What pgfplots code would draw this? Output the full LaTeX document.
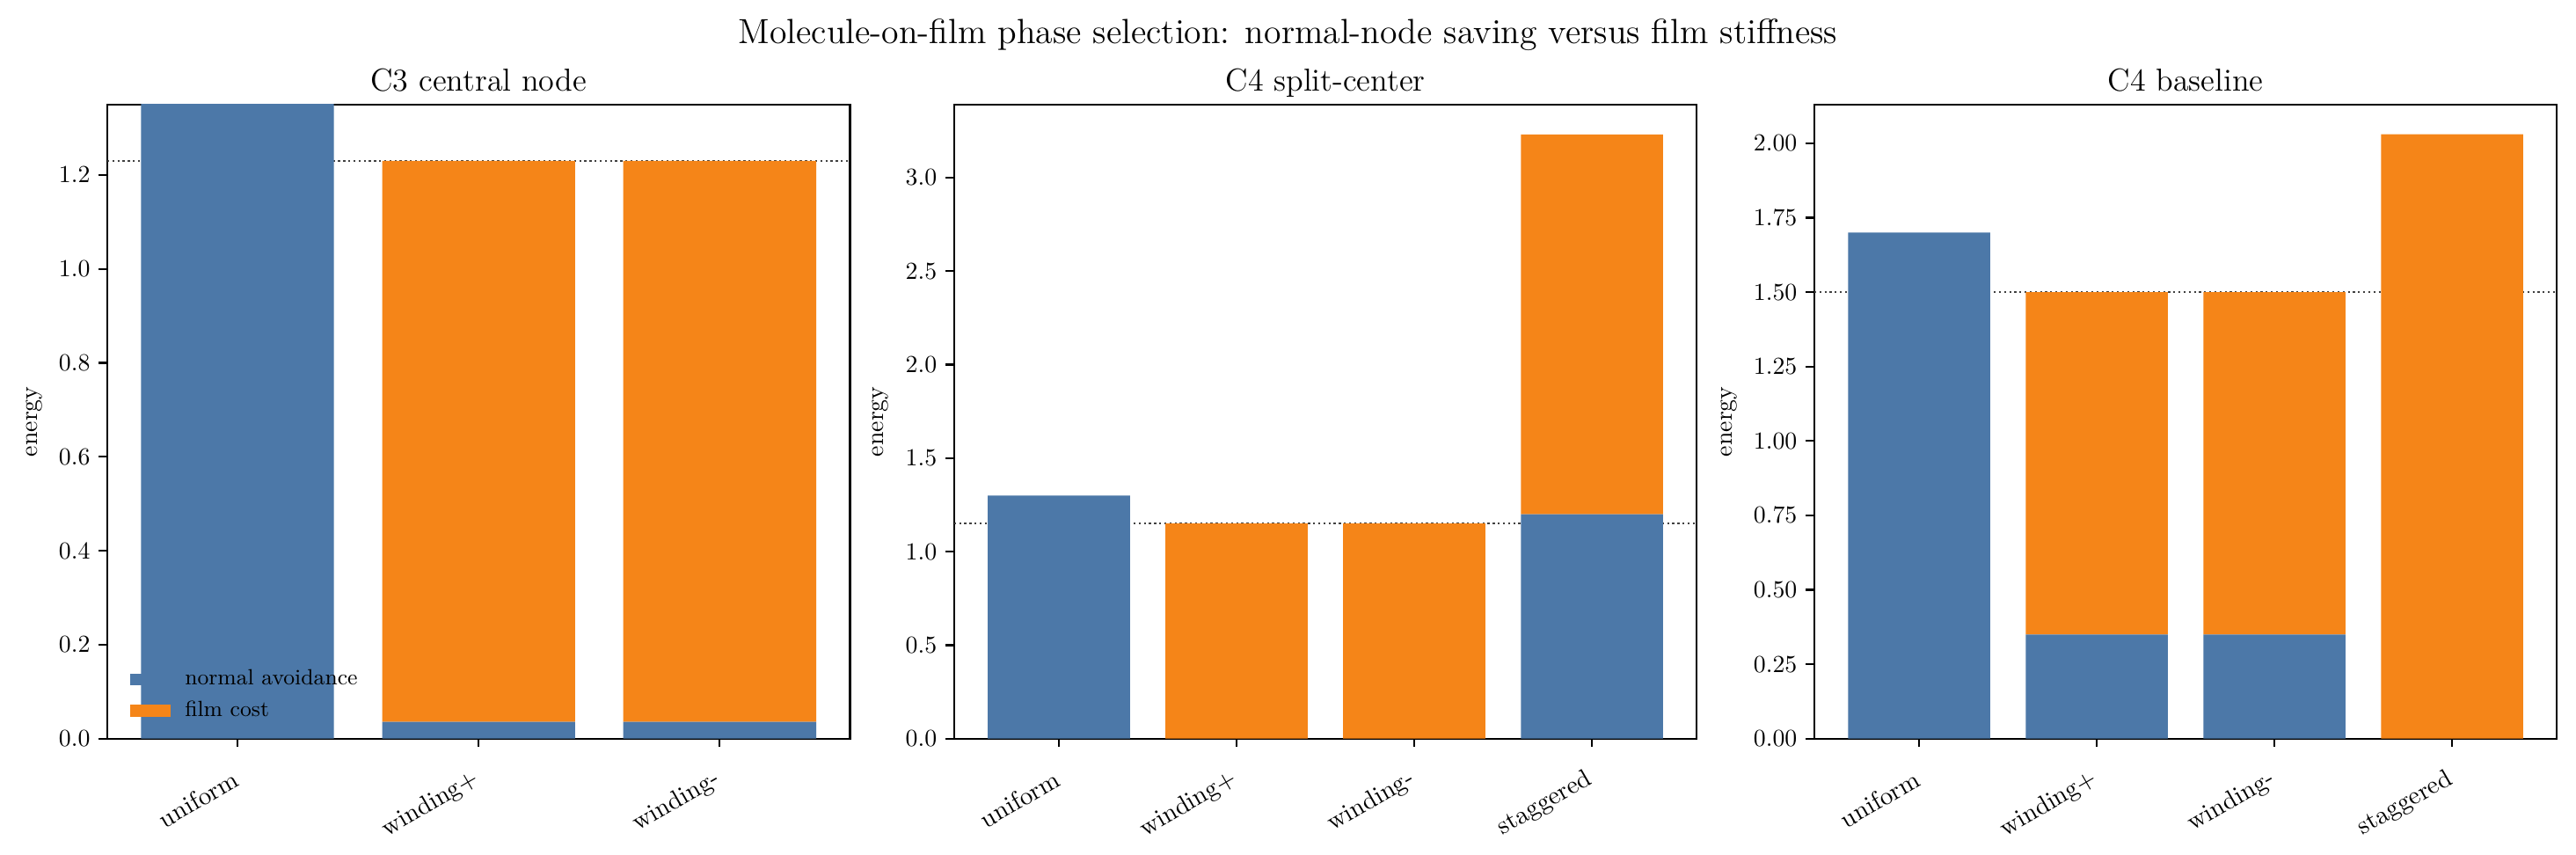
\documentclass[border=0pt]{standalone}
\usepackage{pgfplots}
\pgfplotsset{compat=1.18}

\definecolor{avoid}{HTML}{4C78A8}
\definecolor{film}{HTML}{F58518}

\pgfplotsset{
  panel/.style={
    scale only axis, width=304pt, height=259.5pt, anchor=south west,
    ybar stacked, bar width=0.8, enlargelimits=false, ymin=0,
    tick align=outside, xtick pos=bottom, ytick pos=left,
    major tick length=3.5pt,
    every tick/.style={black, line width=0.8pt},
    axis line style={line width=0.8pt},
    xticklabel style={xshift=0.4pt, yshift=-11.8pt, rotate=30, anchor=east,
      inner sep=1pt, font=\fontsize{10.4}{12}\selectfont},
    yticklabel style={/pgf/number format/fixed, /pgf/number format/fixed zerofill},
    ylabel={energy},
    every axis title/.style={at={(0.5,1)}, anchor=base, yshift=5.6pt,
      font=\fontsize{13}{15}\selectfont},
  },
  avoidbar/.style={fill=avoid, draw=none,
    legend image code/.code={\fill[avoid] (0pt,-2.4pt) rectangle (16.6pt,2.4pt);}},
  filmbar/.style={fill=film, draw=none,
    legend image code/.code={\fill[film] (0pt,-2.4pt) rectangle (16.6pt,2.4pt);}},
}
\tikzset{refline/.style={black!75, line width=0.8pt, dash pattern=on 0.8pt off 1.3pt}}

\begin{document}
\begin{tikzpicture}
\useasboundingbox (0,0) rectangle (1054.4pt,349.6pt);

% C3 central node
\begin{axis}[panel, at={(43.9pt,47.3pt)},
  title={C3 central node},
  xmin=-0.54, xmax=2.54, ymax=1.35,
  xtick={0,1,2}, xticklabels={uniform,winding+,winding-},
  ytick={0,0.2,0.4,0.6,0.8,1.0,1.2},
  yticklabel style={/pgf/number format/precision=1},
  legend style={at={(rel axis cs:0,0)}, anchor=south west, xshift=6pt, yshift=3pt,
    draw=none, fill=none, font=\fontsize{9}{11}\selectfont, cells={anchor=west},
    row sep=0.3pt, legend cell align=left,
    nodes={inner xsep=6pt, inner ysep=2pt, text height=6.5pt, text depth=2pt}},
]
\addplot[avoidbar] coordinates {(0,1.50) (1,0.036) (2,0.036)};
\addplot[filmbar]  coordinates {(0,0) (1,1.194) (2,1.194)};
\legend{normal avoidance, film cost}
\draw[refline] (axis cs:-0.54,1.23) -- (axis cs:2.54,1.23);
\end{axis}

% C4 split-center
\begin{axis}[panel, at={(390.5pt,47.3pt)},
  title={C4 split-center},
  xmin=-0.59, xmax=3.59, ymax=3.39,
  xtick={0,1,2,3}, xticklabels={uniform,winding+,winding-,staggered},
  ytick={0,0.5,1.0,1.5,2.0,2.5,3.0},
  yticklabel style={/pgf/number format/precision=1},
]
\addplot[avoidbar] coordinates {(0,1.30) (1,0) (2,0) (3,1.20)};
\addplot[filmbar]  coordinates {(0,0) (1,1.15) (2,1.15) (3,2.03)};
\draw[refline] (axis cs:-0.59,1.15) -- (axis cs:3.59,1.15);
\end{axis}

% C4 baseline
\begin{axis}[panel, at={(742.6pt,47.3pt)},
  title={C4 baseline},
  xmin=-0.59, xmax=3.59, ymax=2.13,
  xtick={0,1,2,3}, xticklabels={uniform,winding+,winding-,staggered},
  ytick={0,0.25,0.5,0.75,1.0,1.25,1.5,1.75,2.0},
  yticklabel style={/pgf/number format/precision=2},
]
\addplot[avoidbar] coordinates {(0,1.70) (1,0.35) (2,0.35) (3,0)};
\addplot[filmbar]  coordinates {(0,0) (1,1.15) (2,1.15) (3,2.03)};
\draw[refline] (axis cs:-0.59,1.50) -- (axis cs:3.59,1.50);
\end{axis}

\node[font=\fontsize{14.3}{17}\selectfont, anchor=base] at (527.2pt,331.8pt)
  {Molecule-on-film phase selection: normal-node saving versus film stiffness};
\end{tikzpicture}
\end{document}
